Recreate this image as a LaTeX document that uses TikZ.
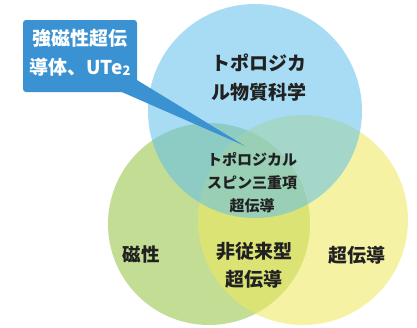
\documentclass[tikz,border=0pt]{standalone}
\usepackage{fontspec}
\usetikzlibrary{calc}
\newfontfamily\jp{Noto Sans CJK JP}
\begin{document}
\begin{tikzpicture}[x=1pt,y=-1pt,
  circ/.style={fill opacity=#1, draw=none},
  lbl/.style={font=\jp\bfseries, text=black!87, align=center, inner sep=0pt},
]
\definecolor{cblue}{RGB}{97,191,235}
\definecolor{cgreen}{RGB}{137,189,45}
\definecolor{cyellow}{RGB}{240,233,91}
\definecolor{callout}{RGB}{58,146,210}
\useasboundingbox (0,0) rectangle (417,327);
\fill[white] (0,0) rectangle (417,327);
\fill[cgreen, circ=0.5] (209,224) circle (101);
\fill[cyellow, circ=0.55] (303,220) circle (105);
\fill[cblue, circ=0.55] (255,111) circle (107);
% callout
\node[fill=callout, rounded corners=3pt, minimum width=114, minimum height=72, inner sep=0pt] (box) at (80,56) {};
\coordinate (tip) at (245,146);
\fill[callout] ($(box.south east)+(0,-12)$) -- (tip) -- ($(box.south east)+(-15,0)$) -- cycle;
\node[lbl, text=white, font=\jp\bfseries\fontsize{19}{29}\selectfont] (ct) at (80,53) {強磁性超伝\\導体、UTe\raisebox{-1pt}{\fontsize{13}{13}\selectfont 2}};
\node[lbl, font=\jp\bfseries\fontsize{19}{29}\selectfont] (topo) at (259,78) {トポロジカ\\ル物質科学};
\node[lbl, font=\jp\bfseries\fontsize{15}{23}\selectfont] (spin) at (252,183) {トポロジカル\\スピン三重項\\超伝導};
\node[lbl, font=\jp\bfseries\fontsize{18.5}{28}\selectfont] (mag) at (141,254) {磁性};
\node[lbl, font=\jp\bfseries\fontsize{19}{28}\selectfont] (unc) at (254,265) {非従来型\\超伝導};
\node[lbl, font=\jp\bfseries\fontsize{19}{28}\selectfont] (sc) at (357,255) {超伝導};
\end{tikzpicture}
\end{document}
